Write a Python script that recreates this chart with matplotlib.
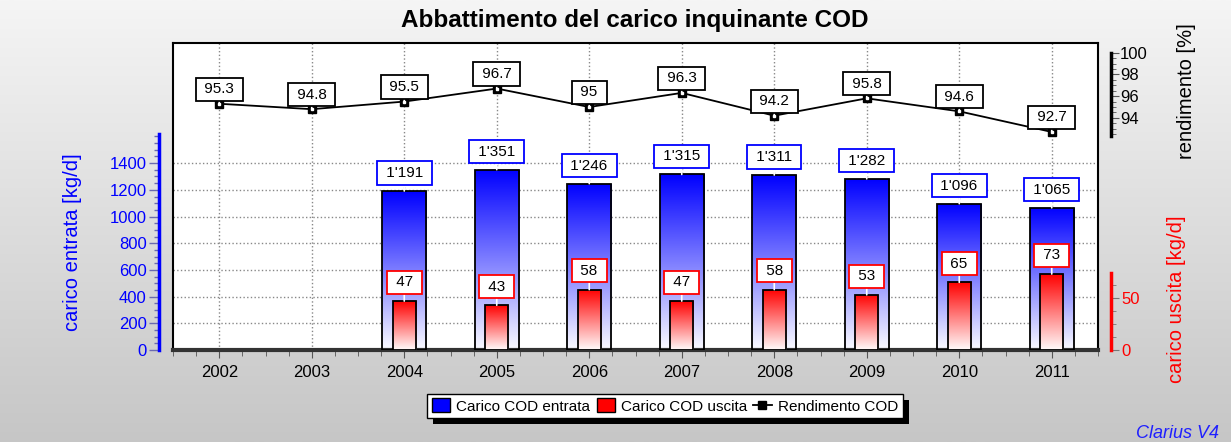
import numpy as np
import matplotlib

matplotlib.use("Agg")
import matplotlib.pyplot as plt
from matplotlib.colors import LinearSegmentedColormap
from matplotlib.lines import Line2D
from matplotlib.patches import Patch, Rectangle
from matplotlib.ticker import FixedLocator

YEARS = ["2002", "2003", "2004", "2005", "2006", "2007", "2008", "2009", "2010", "2011"]
CARICO_ENTRATA = [np.nan, np.nan, 1191, 1351, 1246, 1315, 1311, 1282, 1096, 1065]
CARICO_USCITA = [np.nan, np.nan, 47, 43, 58, 47, 58, 53, 65, 73]
RENDIMENTO = [95.3, 94.8, 95.5, 96.7, 95.0, 96.3, 94.2, 95.8, 94.6, 92.7]

plt.rcParams["font.family"] = ["Liberation Sans", "DejaVu Sans"]

W, H = 1231, 442


def gradient_bars(axis, x, heights, width, color, zorder):
    """Bars filled with a vertical gradient from white (bottom) to color (top)."""
    cmap = LinearSegmentedColormap.from_list("grad", ["#fbfbff" if color == "blue" else "#fffbfb", color])
    grad = np.linspace(0, 1, 256).reshape(-1, 1)
    bars = axis.bar(x, heights, width=width, facecolor="none", edgecolor="black",
                    linewidth=1.3, zorder=zorder + 1)
    for bar in bars:
        h = bar.get_height()
        if np.isnan(h):
            continue
        x0 = bar.get_x()
        im = axis.imshow(grad, cmap=cmap, origin="lower", aspect="auto",
                         extent=[x0, x0 + bar.get_width(), 0, h],
                         interpolation="bilinear", zorder=zorder)
        im.set_clip_path(bar)
    return bars


def value_box(axis, xi, v, text, edge, dy):
    axis.annotate(f" {text} ", xy=(xi, v), xytext=(0, dy), textcoords="offset points",
                  ha="center", va="center", fontsize=11, zorder=6,
                  bbox=dict(boxstyle="square,pad=0.3", fc="white", ec=edge, lw=1.3),
                  arrowprops=dict(arrowstyle="-", color="white", lw=1.2,
                                  shrinkA=0, shrinkB=0))


fig = plt.figure(figsize=(W / 100, H / 100), dpi=100)

bg = fig.add_axes([0, 0, 1, 1], zorder=-10)
bg.imshow(np.linspace(1, 0, 256).reshape(-1, 1), aspect="auto", extent=[0, 1, 0, 1],
          cmap=LinearSegmentedColormap.from_list("bg", ["#c6c6c6", "#f5f5f5"]))
bg.axis("off")

x = np.arange(len(YEARS))

ax = fig.add_axes([173 / W, 1 - 350 / H, 925 / W, 307 / H])
ax.set_facecolor("white")
ax.set_axisbelow(True)
gradient_bars(ax, x, CARICO_ENTRATA, 0.48, "blue", 2)
ax.set_xlim(-0.5, len(YEARS) - 0.5)
ax.set_ylim(0, 2300)
ax.set_yticks(range(0, 1401, 200))
ax.yaxis.set_minor_locator(FixedLocator(np.arange(0, 1601, 50)))
ax.set_xticks(x, YEARS)
ax.xaxis.set_minor_locator(FixedLocator(np.arange(-0.5, len(YEARS) - 0.4, 0.25)))
ax.grid(True, which="major", linestyle=":", color="#888888", linewidth=1)
ax.tick_params(axis="y", which="major", length=7, width=1, color="#6a6ab0",
               labelcolor="blue", labelsize=12, pad=2)
ax.tick_params(axis="y", which="minor", length=3.5, width=1, color="#6a6ab0")
ax.tick_params(axis="x", which="major", length=6, color="#555555", labelsize=12, pad=5)
ax.tick_params(axis="x", which="minor", length=4, color="#555555")
ax.spines["left"].set_position(("outward", 10))
ax.spines["left"].set_bounds(0, 1620)
ax.spines["left"].set_color("blue")
ax.spines["left"].set_linewidth(2.5)
ax.spines["bottom"].set_color("#333333")
ax.spines["bottom"].set_linewidth(3)
for side in ("top", "right"):
    ax.spines[side].set_color("black")
    ax.spines[side].set_linewidth(1.5)
ax.plot([0, 0], [0, 1], transform=ax.transAxes, color="black", lw=1.5, clip_on=False)

for xi, v in zip(x, CARICO_ENTRATA):
    if not np.isnan(v):
        value_box(ax, xi, v, f"{int(v):,}".replace(",", "'"), "blue", 13)

# carico uscita (red)
ax_r = ax.twinx()
gradient_bars(ax_r, x, CARICO_USCITA, 0.25, "red", 3)
ax_r.set_xlim(-0.5, len(YEARS) - 0.5)
ax_r.set_ylim(0, 295)
ax_r.set_yticks([0, 50])
ax_r.yaxis.set_minor_locator(FixedLocator(np.arange(0, 75, 12.5)))
for side in ("top", "left", "bottom"):
    ax_r.spines[side].set_visible(False)
ax_r.spines["right"].set_position(("outward", 9))
ax_r.spines["right"].set_bounds(0, 74)
ax_r.spines["right"].set_color("red")
ax_r.spines["right"].set_linewidth(2.5)
ax_r.tick_params(axis="y", which="major", length=6, color="#777777",
                 labelcolor="red", labelsize=12, pad=2)
ax_r.tick_params(axis="y", which="minor", length=3.5, color="#777777")
for xi, v in zip(x, CARICO_USCITA):
    if not np.isnan(v):
        value_box(ax_r, xi, v, f"{int(v)}", "red", 13.5)

# rendimento (line)
ax_p = ax.twinx()
ax_p.plot(x, RENDIMENTO, color="black", lw=1.3, marker="s", ms=5.5, zorder=4)
ax_p.plot(x, RENDIMENTO, linestyle="none", marker="s", ms=1.6, color="white", zorder=4)
ax_p.set_xlim(-0.5, len(YEARS) - 0.5)
ax_p.set_ylim(72.6, 100.9)
ax_p.set_yticks([94, 96, 98, 100])
ax_p.yaxis.set_minor_locator(FixedLocator(np.arange(92.5, 100.01, 0.5)))
for side in ("top", "left", "bottom"):
    ax_p.spines[side].set_visible(False)
ax_p.spines["right"].set_position(("outward", 9))
ax_p.spines["right"].set_bounds(92.3, 100)
ax_p.spines["right"].set_color("black")
ax_p.spines["right"].set_linewidth(2.5)
ax_p.tick_params(axis="y", which="major", length=6, color="#555555",
                 labelcolor="black", labelsize=12, pad=1)
ax_p.tick_params(axis="y", which="minor", length=3.5, color="#555555")
for xi, v in zip(x, RENDIMENTO):
    value_box(ax_p, xi, v, f"{v:g}", "black", 10.5)

fig.text(635 / W, 1 - 20 / H, "Abbattimento del carico inquinante COD",
         ha="center", va="center", fontsize=17.5, fontweight="bold")
fig.text(72 / W, 1 - 242 / H, "carico entrata [kg/d]", rotation=90,
         ha="center", va="center", fontsize=14.5, color="blue")
fig.text(1187 / W, 1 - 91 / H, "rendimento [%]", rotation=90,
         ha="center", va="center", fontsize=14.5, color="black")
fig.text(1176 / W, 1 - 299 / H, "carico uscita [kg/d]", rotation=90,
         ha="center", va="center", fontsize=14.5, color="red")
fig.text(1219 / W, 1 - 434 / H, "Clarius V4", ha="right", va="center",
         fontsize=13, style="italic", color="#1f1fff")

handles = [
    Patch(facecolor="blue", edgecolor="black", linewidth=1),
    Patch(facecolor="red", edgecolor="black", linewidth=1),
    Line2D([0], [0], color="black", lw=1.3, marker="s", ms=5.5),
]
labels = ["Carico COD entrata", "Carico COD uscita", "Rendimento COD"]
leg = fig.legend(handles, labels, loc="center", bbox_to_anchor=(665 / W, 1 - 406 / H),
                 ncol=3, frameon=True, fancybox=False, edgecolor="black", framealpha=1,
                 fontsize=11, handlelength=1.2, handleheight=1.0, columnspacing=0.4,
                 handletextpad=0.4, borderpad=0.3, borderaxespad=0)
leg.get_frame().set_linewidth(1.0)

fig.canvas.draw()
bb = leg.get_window_extent()
shadow = Rectangle((bb.x0 + 6, bb.y0 - 6), bb.width, bb.height, transform=None,
                   facecolor="black", edgecolor="none", zorder=4.9)
fig.add_artist(shadow)

fig.savefig("out.png", dpi=100)
